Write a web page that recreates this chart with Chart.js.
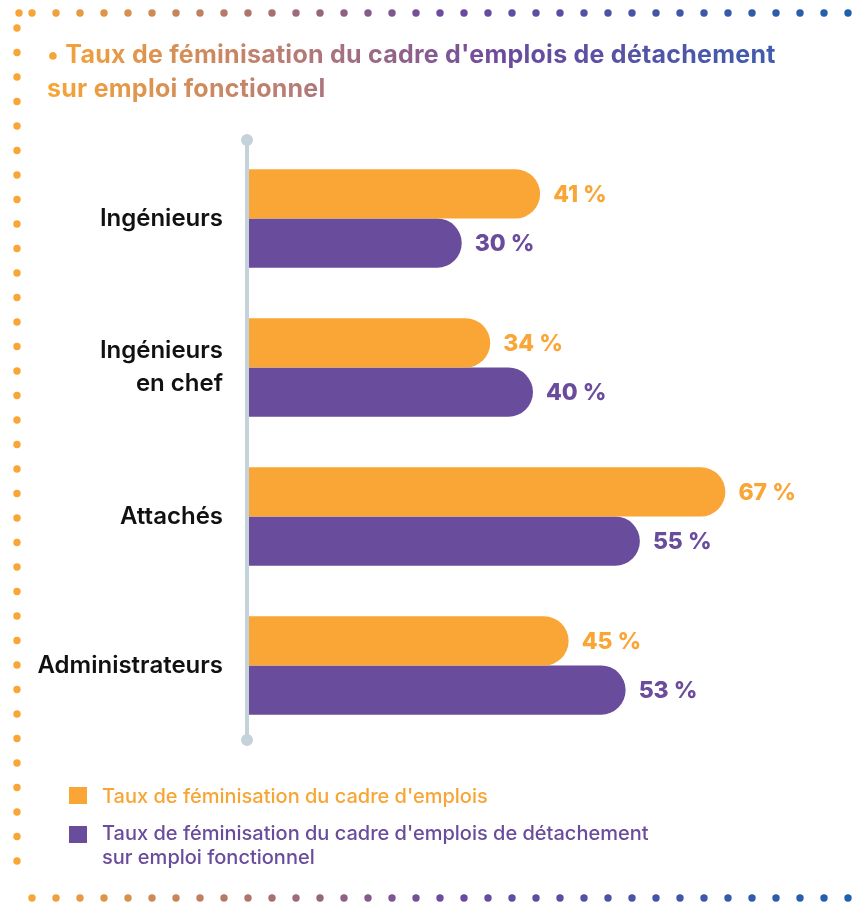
<!DOCTYPE html>
<html lang="fr">
<head>
<meta charset="utf-8">
<script src="https://cdn.jsdelivr.net/npm/chart.js@4.4.1/dist/chart.umd.min.js"></script>
<style>
  html, body { margin: 0; padding: 0; background: #fff; }
  body { width: 865px; height: 904px; position: relative; overflow: hidden; font-family: "Inter", "Lato", sans-serif; }
  #deco { position: absolute; left: 0; top: 0; }
  #title {
    position: absolute; left: 47px; top: 37px;
    font-size: 25px; font-weight: 700; line-height: 34px; letter-spacing: 0.25px;
    background: linear-gradient(90deg, #f8a535 0%, #b47a78 35%, #6c4a9d 62%, #3f5cae 100%);
    -webkit-background-clip: text; background-clip: text; color: transparent;
  }
  #chartBox { position: absolute; left: 0; top: 120px; width: 865px; height: 640px; }
  .leg { position: absolute; left: 69px; font-size: 20px; font-weight: 500; line-height: 24px; }
  .leg .sq { position: absolute; left: 0; width: 18px; height: 17px; }
  .leg .tx { margin-left: 33px; }
</style>
</head>
<body>
<canvas id="deco" width="865" height="904"></canvas>
<div id="title">• Taux de féminisation du cadre d'emplois de détachement<br>sur emploi fonctionnel</div>
<div id="chartBox"><canvas id="myChart"></canvas></div>
<div class="leg" id="leg1" style="top:784px;color:#f7a535"><span class="sq" style="top:3px;background:#f9a636"></span><div class="tx">Taux de féminisation du cadre d'emplois</div></div>
<div class="leg" id="leg2" style="top:821px;color:#6a4c9c"><span class="sq" style="top:5px;background:#6a4c9c"></span><div class="tx">Taux de féminisation du cadre d'emplois de détachement<br>sur emploi fonctionnel</div></div>
<script>
// data
const categories = ["Ingénieurs", ["Ingénieurs", "en chef"], "Attachés", "Administrateurs"];
const tauxCadre = [41, 34, 67, 45];
const tauxDetachement = [30, 40, 55, 53];
const seriesNames = [
  "Taux de féminisation du cadre d'emplois",
  "Taux de féminisation du cadre d'emplois de détachement sur emploi fonctionnel"
];

const orange = "#f9a636";
const purple = "#6a4c9c";

// dotted frame
function drawFrame() {
  const ctx = document.getElementById("deco").getContext("2d");
  const stops = [[0, [248, 165, 53]], [0.5, [108, 74, 157]], [1, [30, 96, 176]]];
  function mix(t) {
    for (let i = 0; i < stops.length - 1; i++) {
      const a = stops[i], b = stops[i + 1];
      if (t <= b[0]) {
        const k = (t - a[0]) / (b[0] - a[0]);
        const c = a[1].map((v, j) => Math.round(v + (b[1][j] - v) * k));
        return `rgb(${c[0]},${c[1]},${c[2]})`;
      }
    }
    return "rgb(30,96,176)";
  }
  function dot(x, y, col) {
    ctx.fillStyle = col;
    ctx.beginPath();
    ctx.arc(x, y, 3.7, 0, Math.PI * 2);
    ctx.fill();
  }
  for (let x = 32; x <= 862; x += 24) {
    dot(x, 13, mix((x - 30) / 830));
    dot(x, 898, mix((x - 30) / 830));
  }
  dot(19, 13, mix(0));
  for (let y = 28; y <= 884; y += 24.5) dot(17, y, orange);
}
drawFrame();

const axisPlugin = {
  id: "axisLine",
  afterDatasetsDraw(chart) {
    const { ctx, chartArea } = chart;
    const x = chartArea.left - 1;
    const y0 = chartArea.top - 4;
    const y1 = chartArea.bottom;
    ctx.save();
    ctx.strokeStyle = "#c4d2da";
    ctx.fillStyle = "#c4d2da";
    ctx.lineWidth = 4;
    ctx.beginPath();
    ctx.moveTo(x, y0);
    ctx.lineTo(x, y1);
    ctx.stroke();
    ctx.beginPath();
    ctx.arc(x, y0, 6, 0, Math.PI * 2);
    ctx.arc(x, y1, 6, 0, Math.PI * 2);
    ctx.fill();
    ctx.restore();
  }
};

const valueLabels = {
  id: "valueLabels",
  afterDatasetsDraw(chart) {
    const { ctx } = chart;
    ctx.save();
    ctx.font = "800 23px Inter, Lato, sans-serif";
    ctx.textBaseline = "middle";
    ctx.textAlign = "left";
    chart.data.datasets.forEach((ds, i) => {
      const meta = chart.getDatasetMeta(i);
      meta.data.forEach((bar, j) => {
        ctx.fillStyle = ds.backgroundColor;
        ctx.fillText(ds.data[j] + " %", bar.x + 13, bar.y + 1);
      });
    });
    ctx.restore();
  }
};

const data = {
  labels: categories,
  datasets: [
    { label: seriesNames[0], data: tauxCadre, backgroundColor: orange },
    { label: seriesNames[1], data: tauxDetachement, backgroundColor: purple }
  ]
};

const config = {
  type: "bar",
  data,
  options: {
    indexAxis: "y",
    responsive: true,
    maintainAspectRatio: false,
    animation: false,
    layout: { padding: { top: 24, bottom: 20, left: 0, right: 47 } },
    datasets: {
      bar: {
        categoryPercentage: 0.66,
        barPercentage: 1,
        borderRadius: 25,
        borderSkipped: "start"
      }
    },
    plugins: {
      legend: { display: false },
      tooltip: { enabled: false }
    },
    scales: {
      x: {
        display: false,
        min: 0,
        max: 80
      },
      y: {
        afterFit(scale) {
          scale.width = 248;
          scale.paddingTop = 0;
          scale.paddingBottom = 0;
        },
        grid: { display: false, drawTicks: false },
        border: { display: false },
        ticks: {
          padding: 25,
          color: "#111",
          font: { family: "Inter, Lato, sans-serif", size: 24, weight: 600, lineHeight: 1.38 }
        }
      }
    }
  },
  plugins: [axisPlugin, valueLabels]
};

new Chart(document.getElementById("myChart"), config);
</script>
</body>
</html>
